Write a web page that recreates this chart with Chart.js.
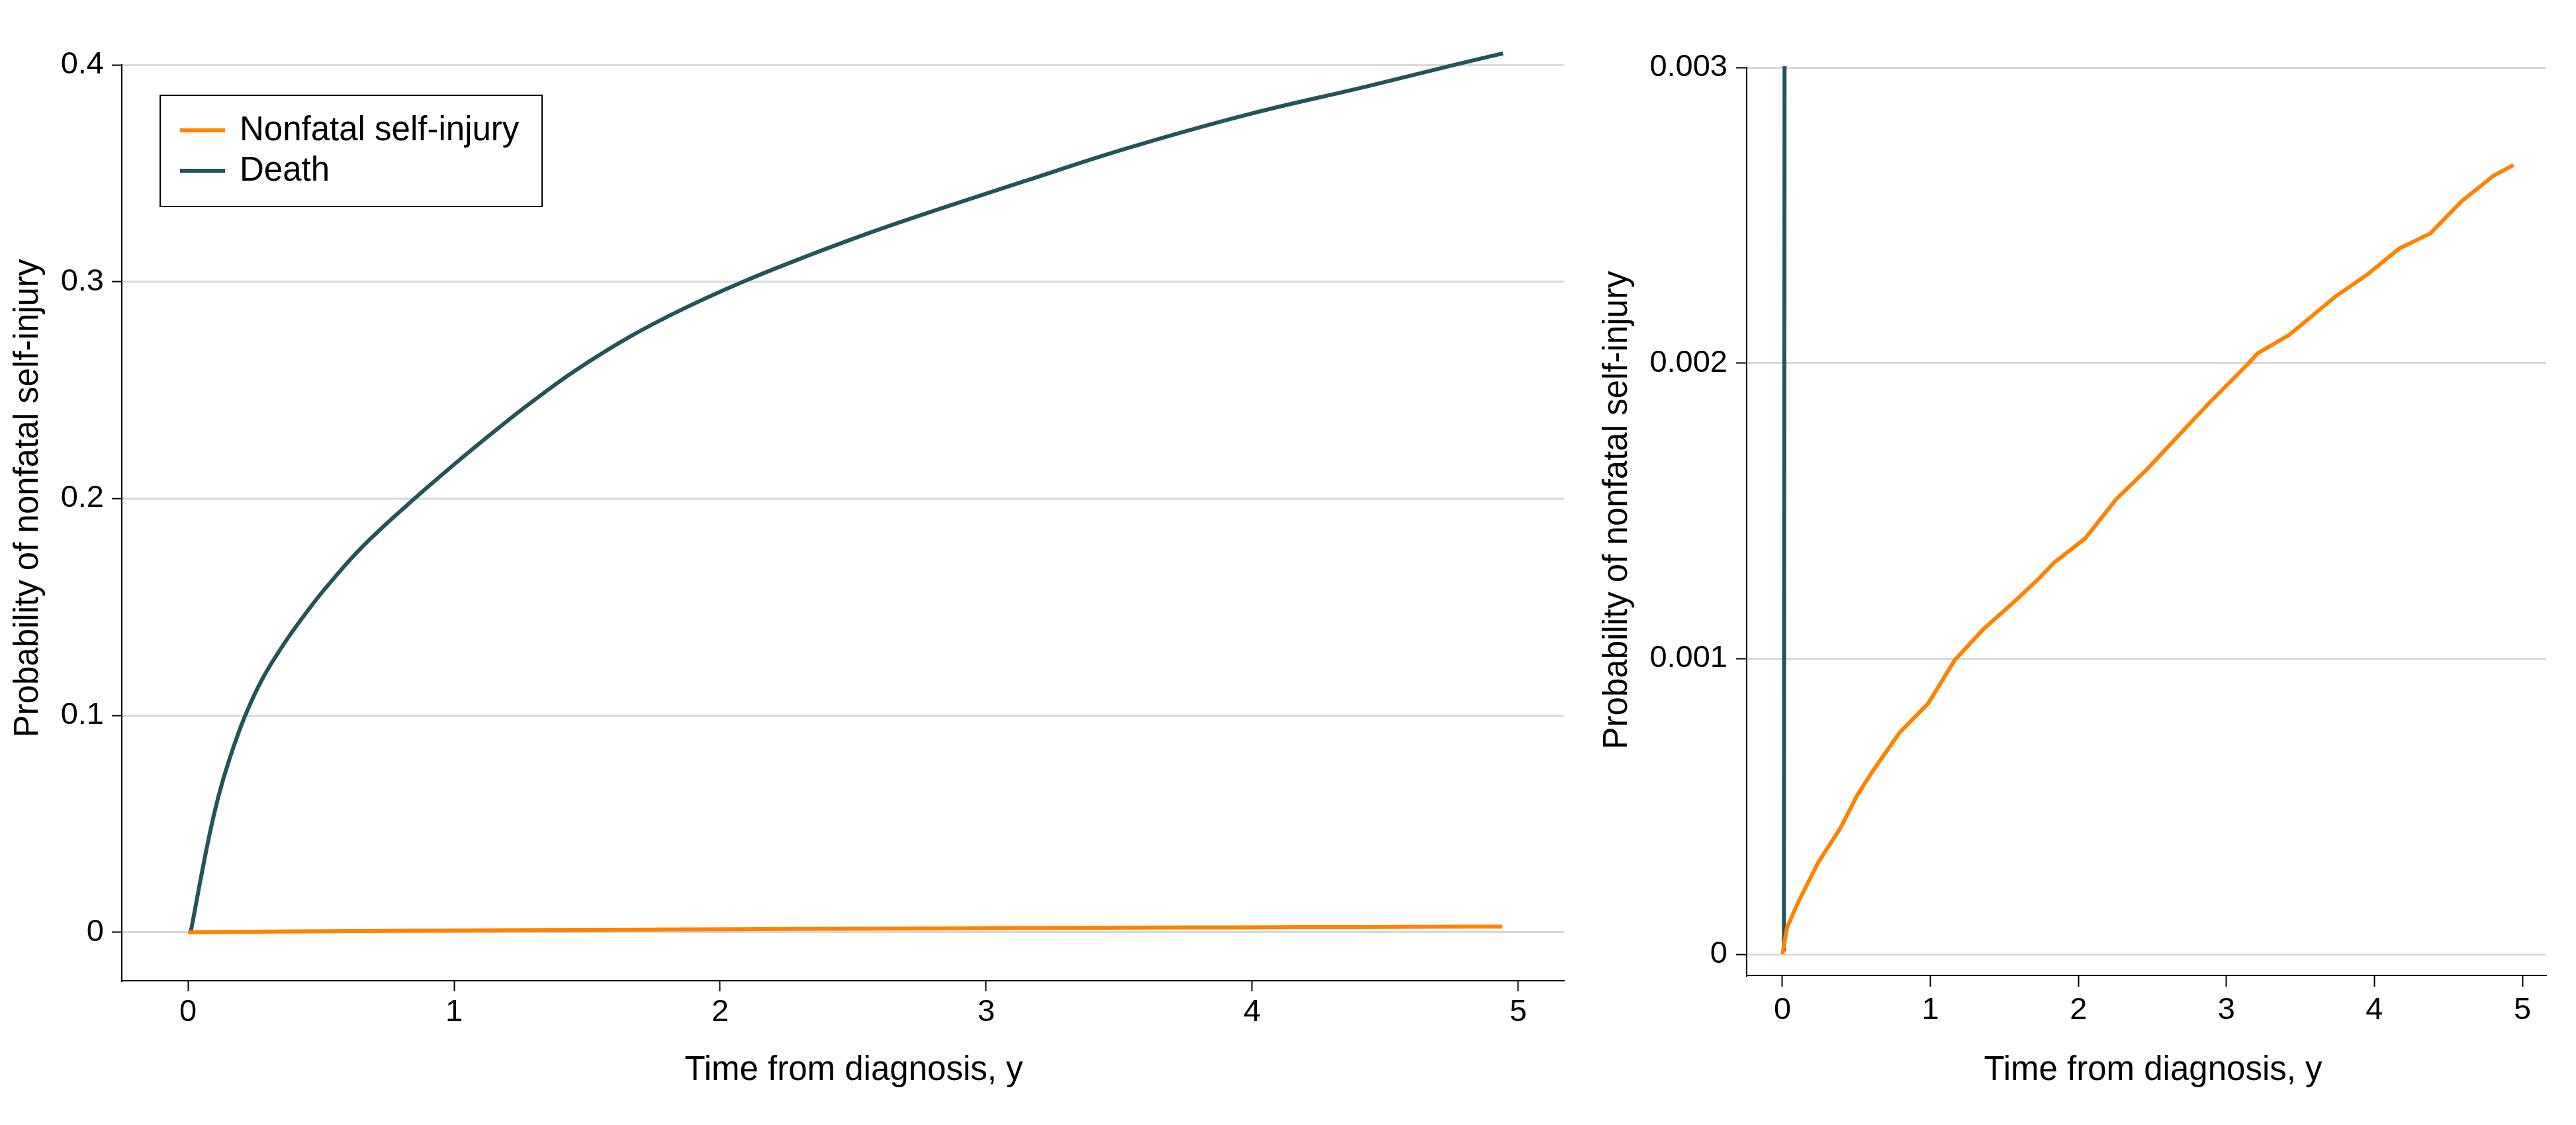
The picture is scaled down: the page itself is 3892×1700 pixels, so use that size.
<!DOCTYPE html>
<html>
<head>
<meta charset="utf-8">
<script src="https://cdn.jsdelivr.net/npm/chart.js@4.4.1/dist/chart.umd.min.js"></script>
<style>
html,body{margin:0;padding:0;background:#fff;}
#wrap{position:relative;width:3892px;height:1700px;background:#fff;}
canvas{position:absolute;top:0;}
#c1{left:0;}
#c2{left:2400px;}
</style>
</head>
<body>
<div id="wrap">
<canvas id="c1" width="2400" height="1700"></canvas>
<canvas id="c2" width="1492" height="1700"></canvas>
</div>
<script>
// ---------- data ----------
const seriesNames = ['Nonfatal self-injury', 'Death'];
const seriesColors = ['#ff8200', '#245458'];

const selfInjuryTime = [0, 0.031, 0.106, 0.24, 0.389, 0.508, 0.613, 0.792, 0.985, 1.164, 1.358, 1.582, 1.731, 1.835, 2.044, 2.256, 2.468, 2.68, 2.893, 3.147, 3.211, 3.423, 3.741, 3.953, 4.166, 4.378, 4.59, 4.802, 4.94];
const selfInjuryProb = [0, 0.00009, 0.000176, 0.000309, 0.000425, 0.00054, 0.000622, 0.00075, 0.000849, 0.000995, 0.0011, 0.0012, 0.00127, 0.001325, 0.001406, 0.00154, 0.001643, 0.001757, 0.00187, 0.001998, 0.002033, 0.002095, 0.002227, 0.0023, 0.002387, 0.002439, 0.002548, 0.002633, 0.00267];

const deathTime = [0.01, 0.073, 0.114, 0.156, 0.214, 0.28, 0.363, 0.454, 0.529, 0.653, 0.819, 1.027, 1.192, 1.284, 1.449, 1.657, 1.863, 2.092, 2.32, 2.577, 2.831, 3.135, 3.523, 3.98, 4.436, 4.774, 4.943];
const deathProb = [0.00001, 0.0405, 0.0625, 0.0800, 0.0997, 0.117, 0.1335, 0.149, 0.1605, 0.1775, 0.1965, 0.2185, 0.2350, 0.2438, 0.2585, 0.2744, 0.2876, 0.3003, 0.3115, 0.3232, 0.3338, 0.346, 0.3613, 0.377, 0.3902, 0.4004, 0.4053];

const xTicks = [0, 1, 2, 3, 4, 5];
const xTickLabels = ['0', '1', '2', '3', '4', '5'];
const yTicksFull = [0, 0.1, 0.2, 0.3, 0.4];
const yTickLabelsFull = ['0', '0.1', '0.2', '0.3', '0.4'];
const yTicksZoom = [0, 0.001, 0.002, 0.003];
const yTickLabelsZoom = ['0', '0.001', '0.002', '0.003'];
const xTitle = 'Time from diagnosis, y';
const yTitle = 'Probability of nonfatal self-injury';

// ---------- drawing ----------
const FONT = "'Liberation Sans', Arial, sans-serif";

const toPoints = (xs, ys) => xs.map((x, i) => ({x: x, y: ys[i]}));

const annotPlugin = {
  id: 'annot',
  afterDraw(chart, args, o) {
    const ctx = chart.ctx;
    ctx.save();
    ctx.fillStyle = '#000';
    ctx.font = '51px ' + FONT;
    ctx.textAlign = 'center';
    ctx.textBaseline = 'alphabetic';
    ctx.fillText(xTitle, o.xTitleX, o.xTitleY);
    ctx.save();
    ctx.translate(o.yTitleX, o.yTitleY);
    ctx.rotate(-Math.PI / 2);
    ctx.fillText(yTitle, 0, 0);
    ctx.restore();
    if (o.legend) {
      const L = o.legend;
      ctx.strokeStyle = '#000';
      ctx.lineWidth = 2;
      ctx.strokeRect(L.x, L.y, L.w, L.h);
      ctx.textAlign = 'left';
      ctx.textBaseline = 'middle';
      chart.data.datasets.forEach((ds, i) => {
        const yy = L.itemY[i];
        ctx.strokeStyle = ds.borderColor;
        ctx.lineWidth = 6;
        ctx.beginPath();
        ctx.moveTo(L.lineX1, yy);
        ctx.lineTo(L.lineX2, yy);
        ctx.stroke();
        ctx.fillStyle = '#000';
        ctx.fillText(ds.label, L.textX, yy + 1);
      });
    }
    ctx.restore();
  }
};

function makeChart(el, cfg) {
  return new Chart(el, {
    type: 'line',
    data: {
      datasets: [
        {label: seriesNames[0], data: toPoints(selfInjuryTime, selfInjuryProb), borderColor: seriesColors[0], backgroundColor: seriesColors[0], borderWidth: 6, pointRadius: 0, tension: 0, fill: false, clip: cfg.clip},
        {label: seriesNames[1], data: toPoints(deathTime, deathProb), borderColor: seriesColors[1], backgroundColor: seriesColors[1], borderWidth: 6, pointRadius: 0, tension: 0.4, fill: false, clip: cfg.clip}
      ]
    },
    options: {
      responsive: false,
      animation: false,
      devicePixelRatio: 1,
      layout: {padding: cfg.padding},
      plugins: {
        legend: {display: false},
        tooltip: {enabled: false},
        annot: cfg.annot
      },
      scales: {
        x: {
          type: 'linear',
          min: cfg.xMin, max: cfg.xMax,
          afterBuildTicks: s => { s.ticks = xTicks.map(v => ({value: v})); },
          afterFit: s => { s.height = cfg.xAxisHeight; },
          grid: {drawOnChartArea: false, drawTicks: true, tickLength: cfg.xTickLen, tickColor: '#000', tickWidth: 2},
          border: {display: true, color: '#000', width: 2},
          ticks: {color: '#000', font: {family: FONT, size: 47}, padding: cfg.xTickPad, maxRotation: 0, autoSkip: false, includeBounds: false,
                  callback: (v, i) => xTickLabels[i]}
        },
        y: {
          type: 'linear',
          min: cfg.yMin, max: cfg.yMax,
          afterBuildTicks: s => { s.ticks = cfg.yTicks.map(v => ({value: v})); },
          afterFit: s => { s.width = cfg.yAxisWidth; },
          grid: {drawOnChartArea: true, color: '#d9d9d9', lineWidth: 3, drawTicks: true, tickLength: cfg.yTickLen, tickColor: '#000', tickWidth: 2},
          border: {display: true, color: '#000', width: 2},
          ticks: {color: '#000', font: {family: FONT, size: 47}, padding: cfg.yTickPad, autoSkip: false, includeBounds: false,
                  callback: (v, i) => cfg.yLabels[i]}
        }
      }
    },
    plugins: [annotPlugin]
  });
}

makeChart(document.getElementById('c1'), {
  padding: {left: 0, top: 98, right: 37, bottom: 0},
  clip: false,
  xMin: -0.249, xMax: 5.172,
  yMin: -0.0223, yMax: 0.4,
  yTicks: yTicksFull, yLabels: yTickLabelsFull,
  yAxisWidth: 184, xAxisHeight: 218,
  xTickLen: 16, xTickPad: 4, yTickLen: 15, yTickPad: 12,
  annot: {
    xTitleX: 1290, xTitleY: 1632, yTitleX: 57, yTitleY: 753,
    legend: {x: 242, y: 144, w: 577, h: 168, lineX1: 272, lineX2: 340, textX: 362, itemY: [197, 258]}
  }
});

makeChart(document.getElementById('c2'), {
  padding: {left: 0, top: 102, right: 45, bottom: 0},
  clip: {left: 0, top: 2, right: 0, bottom: 0},
  xMin: -0.2415, xMax: 5.161,
  yMin: -0.0000716, yMax: 0.003,
  yTicks: yTicksZoom, yLabels: yTickLabelsZoom,
  yAxisWidth: 239, xAxisHeight: 226,
  xTickLen: 17, xTickPad: 8, yTickLen: 16, yTickPad: 13,
  annot: {
    xTitleX: 853, xTitleY: 1632, yTitleX: 58, yTitleY: 771,
    legend: null
  }
});
</script>
</body>
</html>
